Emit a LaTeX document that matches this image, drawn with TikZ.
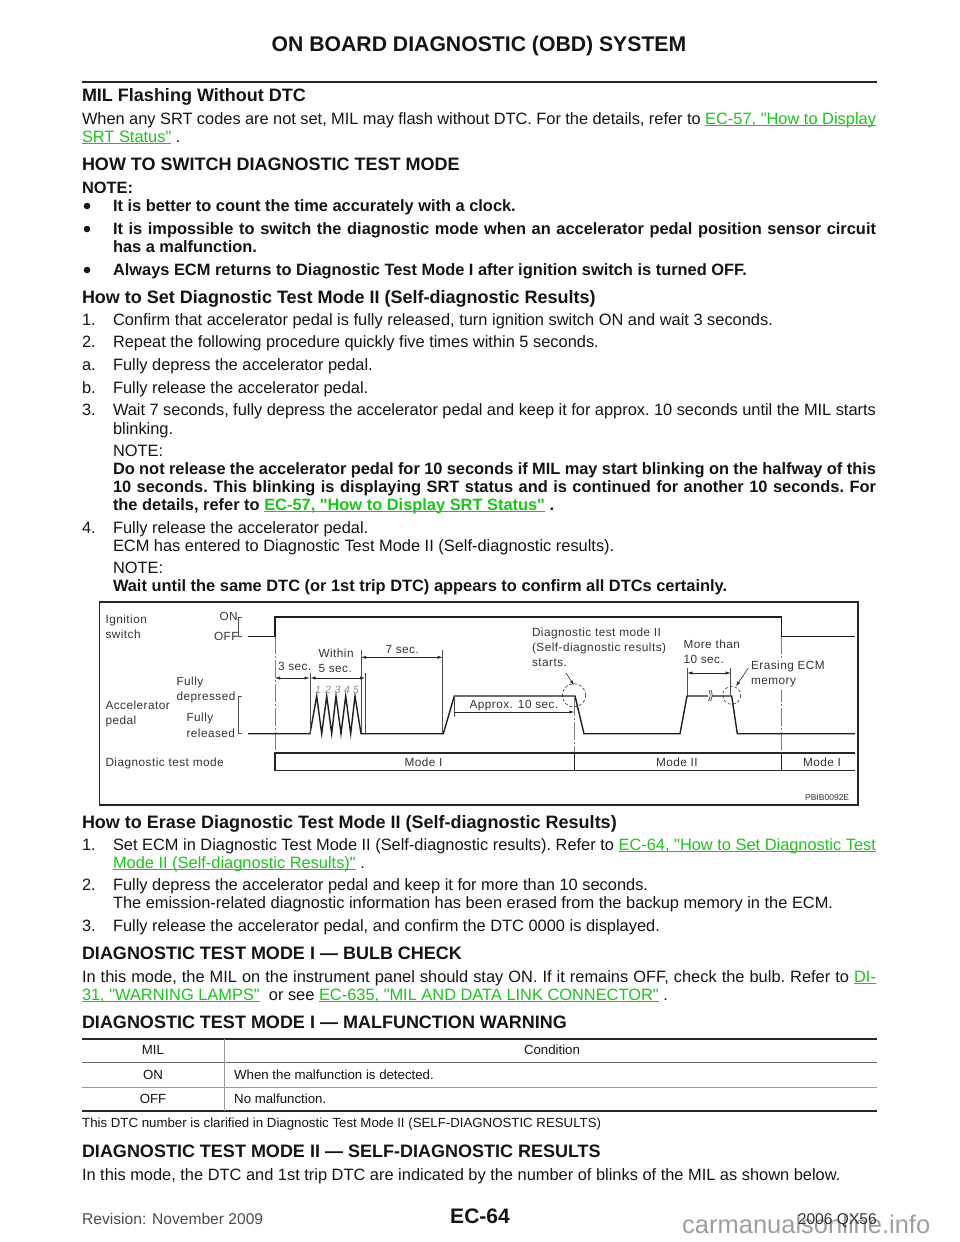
\documentclass[tikz,border=0pt]{standalone}
\usepackage{fontspec}
\setmainfont[Ligatures=TeXOff]{Liberation Sans}
\newfontfamily\diagf[LetterSpace=4,Ligatures=TeXOff]{Liberation Sans}
\usetikzlibrary{arrows.meta}
\definecolor{lg}{HTML}{1CC41C}
\definecolor{ink}{HTML}{141414}
\definecolor{dg}{HTML}{333333}
\newcommand\bd{\fontsize{16.4}{16.4}\selectfont\frenchspacing}
\newcommand\hd{\fontsize{18}{18}\selectfont\bfseries}
\newcommand\lk[1]{\textcolor{lg}{\setbox0=\hbox{#1}\rlap{\rule[-2.2pt]{\wd0}{1pt}}\box0}}
\newcommand\qq{\symbol{34}}
\newcommand\tl[3]{\node[txt] at (#1,#2) {\bd #3};}
\newcommand\bt[3]{\node[txt] at (#1,#2) {\bd\bfseries #3};}
\newcommand\hl[3]{\node[txt] at (#1,#2) {\hd #3};}
\newcommand\jl[4]{\node[txt] at (#1,#2) {\bd\hbox to #3pt{#4}};}
\newcommand\bj[4]{\node[txt] at (#1,#2) {\bd\bfseries\hbox to #3pt{#4}};}
\newcommand\bul[1]{\fill[ink] (87,#1) circle (3.3);}
\newcommand\dt[3]{\node[dtxt] at (#1,#2) {#3};}
\newcommand\dg[2]{\node[anchor=base west,inner sep=0,text=black!45] at (#1,693) {\fontsize{10.5}{10.5}\selectfont\itshape #2};}
\tikzset{
 txt/.style={anchor=base west,inner sep=0,outer sep=0,text=ink},
 dtxt/.style={anchor=base west,inner sep=0,outer sep=0,text=dg,font=\diagf\fontsize{11.8}{11.8}\selectfont},
 tbl/.style={anchor=base,inner sep=0,text=ink,font=\fontsize{13.25}{13.25}\selectfont},
 sig/.style={line width=1.4pt,draw=black!88,line join=miter},
 thin1/.style={line width=0.6pt,draw=black!70},
 guide/.style={line width=0.5pt,draw=black!50,dash pattern=on 18pt off 2pt on 2pt off 2pt},
 dim/.style={line width=0.6pt,draw=black!85,{Latex[length=5pt,width=3.2pt]}-{Latex[length=5pt,width=3.2pt]}},
 lead/.style={line width=0.6pt,draw=black!85,-{Latex[length=5pt,width=3.2pt]}},
 circ/.style={line width=0.6pt,draw=black!80,dash pattern=on 3pt off 2pt},
}
\begin{document}
\begin{tikzpicture}[x=1pt,y=-1pt]
\useasboundingbox[fill=white] (0,0) rectangle (960,1242);
\node[anchor=base,inner sep=0,text=ink] at (479,51) {\fontsize{21.2}{21.2}\selectfont\bfseries ON BOARD DIAGNOSTIC (OBD) SYSTEM};
\draw[line width=2.6pt,black!85] (82,82) -- (877,82);
\hl{82}{101}{MIL Flashing Without DTC}
\jl{82}{124}{794}{When any SRT codes are not set, MIL may flash without DTC. For the details, refer to \lk{EC-57, \qq How to Display}}
\tl{82}{142}{\lk{SRT Status\qq} .}
\hl{82}{170}{HOW TO SWITCH DIAGNOSTIC TEST MODE}
\bt{82}{193}{NOTE:}
\bul{206} \bt{113}{211}{It is better to count the time accurately with a clock.}
\bul{229} \bj{113}{234}{763}{It is impossible to switch the diagnostic mode when an accelerator pedal position sensor circuit}
\bt{113}{252}{has a malfunction.}
\bul{270} \bt{113}{275}{Always ECM returns to Diagnostic Test Mode I after ignition switch is turned OFF.}
\hl{82}{303}{How to Set Diagnostic Test Mode II (Self-diagnostic Results)}
\tl{82}{325}{1.}\tl{113}{325}{Confirm that accelerator pedal is fully released, turn ignition switch ON and wait 3 seconds.}
\tl{82}{347}{2.}\tl{113}{347}{Repeat the following procedure quickly five times within 5 seconds.}
\tl{82}{370}{a.}\tl{113}{370}{Fully depress the accelerator pedal.}
\tl{82}{393}{b.}\tl{113}{393}{Fully release the accelerator pedal.}
\tl{82}{415}{3.}\jl{113}{415}{763}{Wait 7 seconds, fully depress the accelerator pedal and keep it for approx. 10 seconds until the MIL starts}
\tl{113}{434}{blinking.}
\tl{113}{456}{NOTE:}
\bj{113}{474}{763}{Do not release the accelerator pedal for 10 seconds if MIL may start blinking on the halfway of this}
\bj{113}{492}{763}{10 seconds. This blinking is displaying SRT status and is continued for another 10 seconds. For}
\bt{113}{510}{the details, refer to \lk{EC-57, \qq How to Display SRT Status\qq} .}
\tl{82}{533}{4.}\tl{113}{533}{Fully release the accelerator pedal.}
\tl{113}{551}{ECM has entered to Diagnostic Test Mode II (Self-diagnostic results).}
\tl{113}{573}{NOTE:}
\bt{113}{591}{Wait until the same DTC (or 1st trip DTC) appears to confirm all DTCs certainly.}
% figure
\draw[line width=1.2pt,black!85] (99.5,602) rectangle (858,805);
\draw[guide] (275,636) -- (275,753);
\draw[guide] (574.5,698) -- (574.5,753);
\draw[guide] (781.5,636) -- (781.5,753);
\draw[sig] (248,636.3) -- (275,636.3) -- (275,617) -- (781.5,617) -- (781.5,636.3) -- (855,636.3);
\draw[sig] (248,733.7) -- (310,733.7) -- (316.7,696) -- (321.7,733.7) -- (326.7,696) -- (331.7,733.7) -- (336,696) -- (341,733.7) -- (345.7,696) -- (350.7,733.7) -- (355,696) -- (361,733.7) -- (443.3,733.7) -- (454.3,696) -- (575,696) -- (584,733.7) -- (680,733.7) -- (687,696) -- (731.7,696) -- (737.3,733.7) -- (855,733.7);
\draw[line width=1.3pt,black!85] (855,753) -- (275,753) -- (275,770.3) -- (855,770.3);
\draw[line width=1.3pt,black!85] (574.5,753) -- (574.5,770.3) (781.5,753) -- (781.5,770.3);
% brackets
\draw[thin1] (241.7,617) -- (238.3,617) -- (238.3,636.3) -- (241.7,636.3);
\draw[thin1] (241.7,696.7) -- (238.3,696.7) -- (238.3,733.7) -- (241.7,733.7);
% dims
\draw[thin1] (310,673) -- (310,733) (361.2,650) -- (361.2,733) (365,673) -- (365,733) (442.7,650) -- (442.7,733) (454.3,696) -- (454.3,717) (687.3,668) -- (687.3,696) (730.7,668) -- (730.7,696);
\draw[dim] (275,678) -- (309.5,678);
\draw[dim] (310.5,678) -- (365,678);
\draw[dim] (361.2,657.3) -- (442.7,657.3);
\draw[lead] (454.3,712) -- (574.3,712);
\draw[dim] (687.3,673) -- (730.7,673);
\draw[lead] (566,673) -- (574,685.3);
\draw[lead] (748.3,668) -- (736,686.3);
\draw[circ] (574,695.3) circle (11.7);
\draw[circ] (731.7,695.3) circle (9);
\fill[white] (708.3,691) rectangle (711.7,701);
\draw[line width=0.6pt,black!85] (709,690) to[bend left=25] (708.5,701) (711,690) to[bend left=25] (710.5,701);
% figure text
\fill[white] (778,658) rectangle (785,690);
\dt{105.5}{623}{Ignition}\dt{105.5}{638}{switch}
\dt{219.5}{620.5}{ON}\dt{214}{640}{OFF}
\dt{318.5}{657.5}{Within}\dt{318.5}{672.5}{5 sec.}
\dt{278}{670.5}{3 sec.}\dt{385.5}{653}{7 sec.}
\dt{176.5}{685}{Fully}\dt{176.5}{700.5}{depressed}
\dt{105.5}{709}{Accelerator}\dt{105.5}{724}{pedal}
\dt{186.5}{721.5}{Fully}\dt{186.5}{737}{released}
\dt{105.5}{766}{Diagnostic test mode}
\dt{404.5}{766.5}{Mode I}\dt{656}{766}{Mode II}\dt{803}{766}{Mode I}
\dt{469.5}{708}{Approx. 10 sec.}
\dt{532}{636.5}{Diagnostic test mode II}
\dt{532}{651.5}{(Self-diagnostic results)}
\dt{532}{666.5}{starts.}
\dt{683.5}{648}{More than}\dt{683.5}{663}{10 sec.}
\dt{751}{669}{Erasing ECM}\dt{751}{684}{memory}
\dg{315}{1}\dg{325}{2}\dg{334.5}{3}\dg{344}{4}\dg{353}{5}
\node[anchor=base west,inner sep=0,text=dg] at (805,800) {\fontsize{8.5}{8.5}\selectfont PBIB0092E};
\hl{82}{828}{How to Erase Diagnostic Test Mode II (Self-diagnostic Results)}
\tl{82}{850}{1.}\jl{113}{850}{763}{Set ECM in Diagnostic Test Mode II (Self-diagnostic results). Refer to \lk{EC-64, \qq How to Set Diagnostic Test}}
\tl{113}{868}{\lk{Mode II (Self-diagnostic Results)\qq} .}
\tl{82}{890}{2.}\tl{113}{890}{Fully depress the accelerator pedal and keep it for more than 10 seconds.}
\tl{113}{908}{The emission-related diagnostic information has been erased from the backup memory in the ECM.}
\tl{82}{931}{3.}\tl{113}{931}{Fully release the accelerator pedal, and confirm the DTC 0000 is displayed.}
\hl{82}{959}{DIAGNOSTIC TEST MODE I — BULB CHECK}
\jl{82}{982}{794}{In this mode, the MIL on the instrument panel should stay ON. If it remains OFF, check the bulb. Refer to \lk{DI-}}
\tl{82}{1000}{\lk{31, \qq WARNING LAMPS\qq}\ \ or see \lk{EC-635, \qq MIL AND DATA LINK CONNECTOR\qq} .}
\hl{82}{1028}{DIAGNOSTIC TEST MODE I — MALFUNCTION WARNING}
% table
\draw[line width=2pt,black!85] (82,1039) -- (877,1039);
\draw[line width=0.9pt,black!60] (82,1062.5) -- (877,1062.5);
\draw[line width=0.6pt,black!40] (82,1087) -- (877,1087);
\draw[line width=2pt,black!85] (82,1111) -- (877,1111);
\draw[line width=0.6pt,black!40] (224,1039) -- (224,1111);
\node[tbl] at (153,1054) {MIL};
\node[tbl] at (552,1054) {Condition};
\node[tbl] at (153,1079) {ON};
\node[tbl,anchor=base west] at (234,1079) {When the malfunction is detected.};
\node[tbl] at (153,1103) {OFF};
\node[tbl,anchor=base west] at (234,1103) {No malfunction.};
\node[tbl,anchor=base west] at (82,1127) {This DTC number is clarified in Diagnostic Test Mode II (SELF-DIAGNOSTIC RESULTS)};
\hl{82}{1157}{DIAGNOSTIC TEST MODE II — SELF-DIAGNOSTIC RESULTS}
\tl{82}{1180}{In this mode, the DTC and 1st trip DTC are indicated by the number of blinks of the MIL as shown below.}
% footer
\node[anchor=base west,inner sep=0,text=black!38] at (682,1233) {\fontsize{25.5}{25.5}\selectfont carmanualsonline.info};
\node[anchor=base west,inner sep=0,text=black!70] at (82,1224) {\fontsize{15.6}{15.6}\selectfont Revision: November 2009};
\node[anchor=base,inner sep=0,text=ink] at (480,1223) {\fontsize{21}{21}\selectfont\bfseries EC-64};
\node[anchor=base east,inner sep=0,text=black!80] at (877,1224) {\fontsize{15.6}{15.6}\selectfont 2006 QX56};
\end{tikzpicture}
\end{document}
